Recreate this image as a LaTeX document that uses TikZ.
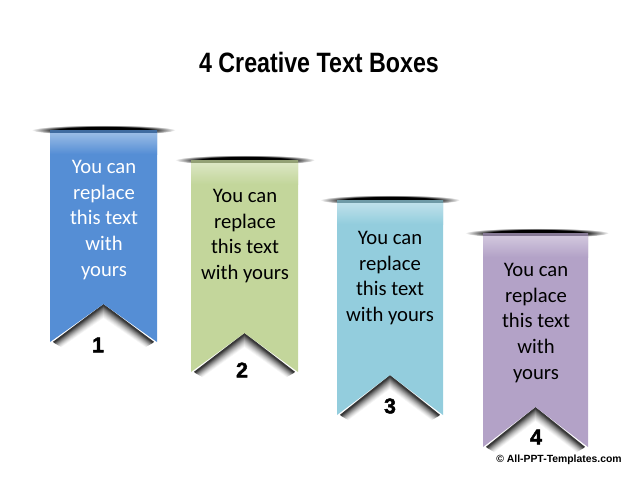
\documentclass[tikz,border=0pt]{standalone}
\usepackage{fontspec}
\setmainfont{Carlito}
\newfontfamily\arialfont{Liberation Sans}
\newfontfamily\numfont{Liberation Sans}[BoldFeatures={FakeBold=2}]
\definecolor{ribblue}{RGB}{85,142,213}
\definecolor{ribgreen}{RGB}{195,214,155}
\definecolor{ribaqua}{RGB}{147,205,221}
\definecolor{ribviolet}{RGB}{179,162,199}
\pgfdeclareradialshading{barshadow}{\pgfpoint{0bp}{0bp}}{color(0bp)=(black); color(16bp)=(black); color(25bp)=(white); color(50bp)=(white)}
\begin{document}
\begin{tikzpicture}[x=0.75pt,y=0.75pt,yscale=-1,xscale=1,
  ribtext/.style={inner sep=0pt, align=center, font=\fontsize{15.5}{19.4}\selectfont},
  ribnum/.style={inner sep=0pt, font=\numfont\bfseries\fontsize{16}{16}\selectfont},
  gloss/.style={draw=none}]
\useasboundingbox (0,0) rectangle (640,480);

% Text Node
\draw (319,62) node (title) [inner sep=0pt, xscale=0.83] {\arialfont\bfseries\fontsize{21}{21}\selectfont 4 Creative Text Boxes};

%Shadows: top bars
\shade[shading=barshadow] (103.5,130) ellipse [x radius=72, y radius=5];
\shade[shading=barshadow] (245,160) ellipse [x radius=70, y radius=5];
\shade[shading=barshadow] (390,200) ellipse [x radius=70, y radius=5];
\shade[shading=barshadow] (537,233) ellipse [x radius=72, y radius=5];

%Shadows: notches
\foreach \xl/\xr/\ya/\yb in {50/157/304/342, 191/298/333/372, 337/443/375/415, 483/588/407/447}
  \foreach \s/\dk in {13/3, 12/7, 11/11, 10/16, 9/21, 8/27, 7/33, 6/40, 5/47, 4/54, 3/62, 2/70, 1/78}
    \draw[color=black!\dk, line width=1.2] ({\xl+3+0.6*\s},{\yb+0.35*\s}) -- ({(\xl+\xr)/2},{\ya+\s}) -- ({\xr-3-0.6*\s},{\yb+0.35*\s});

%Shape: Ribbon 1
\fill[ribblue] (50,130) -- (157,130) -- (157,342) -- (103.5,304) -- (50,342) -- cycle ;
\shade[gloss, top color=ribblue!60!white, bottom color=ribblue] (50,133) rectangle (157,154);
\fill[ribblue!75!black] (50,130) rectangle (157,133);
%Shape: Ribbon 2
\fill[ribgreen] (191,160) -- (298,160) -- (298,372) -- (244.5,333) -- (191,372) -- cycle ;
\shade[gloss, top color=ribgreen!60!white, bottom color=ribgreen] (191,163) rectangle (298,184);
\fill[ribgreen!75!black] (191,160) rectangle (298,163);
%Shape: Ribbon 3
\fill[ribaqua] (337,200) -- (443,200) -- (443,415) -- (390,375) -- (337,415) -- cycle ;
\shade[gloss, top color=ribaqua!60!white, bottom color=ribaqua] (337,203) rectangle (443,224);
\fill[ribaqua!75!black] (337,200) rectangle (443,203);
%Shape: Ribbon 4
\fill[ribviolet] (483,233) -- (588,233) -- (588,447) -- (535.5,407) -- (483,447) -- cycle ;
\shade[gloss, top color=ribviolet!60!white, bottom color=ribviolet] (483,236) rectangle (588,257);
\fill[ribviolet!75!black] (483,233) rectangle (588,236);

% Text Node
\draw (104,220) node (txta) [ribtext, text=white] {You can\\replace\\this text\\with\\yours};
% Text Node
\draw (245,236) node (txtb) [ribtext] {You can\\replace\\this text\\with yours};
% Text Node
\draw (390,278) node (txtc) [ribtext] {You can\\replace\\this text\\with yours};
% Text Node
\draw (536,323) node (txtd) [ribtext] {You can\\replace\\this text\\with\\yours};

% Text Node
\draw (98,345) node (numa) [ribnum] {1};
% Text Node
\draw (242,370) node (numb) [ribnum] {2};
% Text Node
\draw (390,406) node (numc) [ribnum] {3};
% Text Node
\draw (536,437) node (numd) [ribnum] {4};

% Text Node
\draw (559,460) node (copy) [inner sep=0pt] {\arialfont\bfseries\fontsize{7.8}{8}\selectfont © All-PPT-Templates.com};
\end{tikzpicture}
\end{document}
